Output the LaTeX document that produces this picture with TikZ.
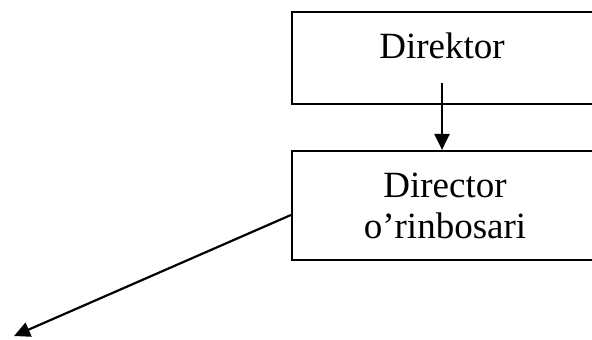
\documentclass[tikz,border=0pt]{standalone}
\usepackage{fontspec}
\setmainfont{Liberation Serif}
\usetikzlibrary{arrows.meta}

\tikzset{
	orgbox/.style={draw=black, line width=1.1pt, rectangle, minimum width=151pt, inner sep=0pt},
	orgtext/.style={font=\fontsize{18.5}{20.5}\selectfont, inner sep=0pt, align=center},
	link/.style={-{Triangle[length=8pt,width=7.5pt]}, line width=1.1pt}
}

\begin{document}
\begin{tikzpicture}[x=0.5pt,y=-0.5pt]
	\useasboundingbox (0,0) rectangle (592,339);
	% boxes
	\node[orgbox, minimum height=46pt] (dir) at (443,58) {};
	\node[orgbox, minimum height=54.5pt] (dep) at (443,205.5) {};
	% texts
	\node[orgtext, anchor=base] (dirtxt) at (442,58) {Direktor};
	\node[orgtext, anchor=base] (deptxt) at (445,238) {Director\\o'rinbosari};
	% links
	\coordinate (dirfoot) at (442,83);
	\coordinate (far) at (14,336);
	\draw[link] (dirfoot) -- (dirfoot |- dep.north);
	\draw[link] ([yshift=-4.75pt]dep.west) -- (far);
\end{tikzpicture}
\end{document}
